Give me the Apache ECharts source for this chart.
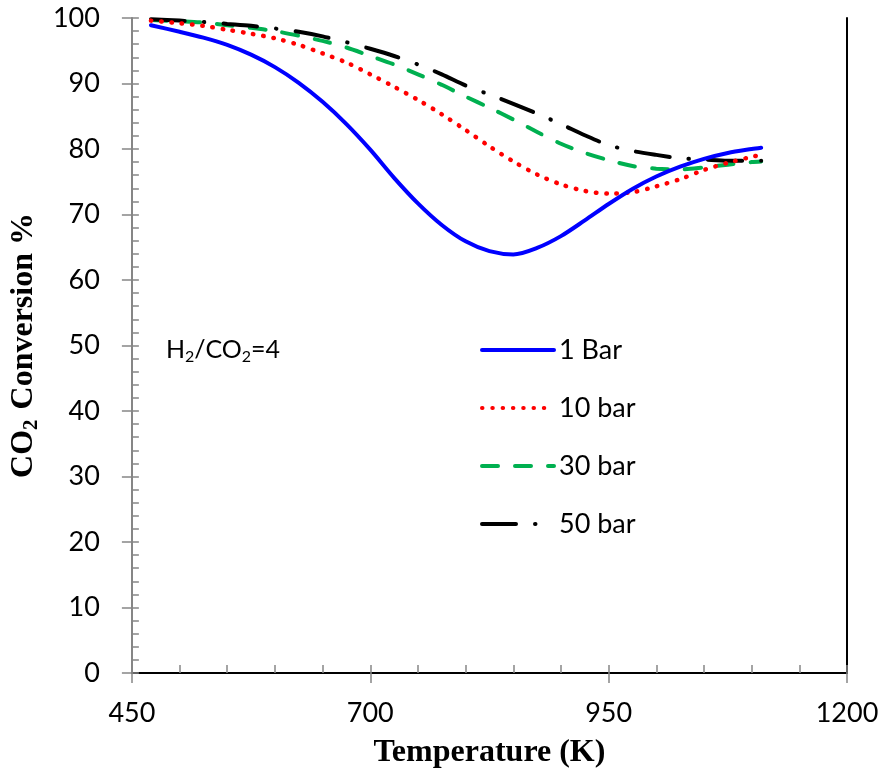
<!DOCTYPE html>
<html>
<head>
<meta charset="utf-8">
<script src="https://cdn.jsdelivr.net/npm/echarts@6/dist/echarts.min.js"></script>
<style>
html,body{margin:0;padding:0;background:#fff;}
#chart{width:885px;height:782px;}
</style>
</head>
<body>
<div id="chart"></div>
<script>
// Temperature (K)
const temps = [470, 500, 525, 550, 575, 600, 625, 650, 675, 700, 725, 750, 775, 800, 825, 850, 875, 900, 925, 950, 975, 1000, 1025, 1050, 1075, 1100, 1110];
// CO2 conversion (%)
const bar1  = [98.9, 97.9, 97.0, 95.9, 94.4, 92.5, 90.1, 87.2, 83.8, 79.9, 75.6, 71.7, 68.4, 65.9, 64.4, 63.9, 64.9, 66.7, 69.1, 71.6, 73.9, 75.8, 77.3, 78.5, 79.4, 80.0, 80.2];
const bar10 = [99.6, 99.2, 98.8, 98.2, 97.6, 96.9, 95.9, 94.6, 93.2, 91.4, 89.5, 87.5, 85.3, 82.9, 80.4, 78.1, 76.1, 74.6, 73.6, 73.2, 73.4, 74.3, 75.4, 76.8, 77.9, 78.8, 79.1];
const bar30 = [99.7, 99.5, 99.3, 98.9, 98.5, 98.0, 97.3, 96.5, 95.5, 94.2, 92.9, 91.4, 89.8, 88.0, 86.3, 84.5, 82.6, 80.8, 79.4, 78.3, 77.4, 77.0, 76.9, 77.2, 77.6, 78.0, 78.1];
const bar50 = [99.8, 99.6, 99.4, 99.1, 98.8, 98.4, 97.9, 97.2, 96.3, 95.3, 94.2, 92.9, 91.4, 89.7, 88.3, 86.9, 85.4, 83.8, 82.1, 80.6, 79.7, 79.1, 78.6, 78.4, 78.2, 78.2, 78.2];
const seriesNames = ['1 Bar', '10 bar', '30 bar', '50 bar'];
const xTicks = [450, 700, 950, 1200];
const yTicks = [0, 10, 20, 30, 40, 50, 60, 70, 80, 90, 100];

const pairs = v => temps.map((t, i) => [t, v[i]]);
const gray = '#868686';
const labelFont = 'Lato, "Noto Sans", sans-serif';
const serif = '"Liberation Serif", "Times New Roman", serif';

const chart = echarts.init(document.getElementById('chart'), null, {renderer: 'canvas'});
const option = {
  backgroundColor: '#fff',
  animation: false,
  grid: {left: 130, right: 38, top: 18, bottom: 109, containLabel: false},
  legend: {
    orient: 'vertical',
    left: 480, top: 336, padding: 0,
    itemWidth: 72, itemHeight: 28, itemGap: 30,
    data: seriesNames,
    itemStyle: {opacity: 0},
    lineStyle: {width: 4, cap: 'round'},
    textStyle: {fontFamily: labelFont, fontSize: 27, color: '#000', lineHeight: 28}
  },
  xAxis: [
    {
      type: 'value', min: xTicks[0], max: xTicks[xTicks.length-1], interval: 250, position: 'bottom',
      axisLine: {show: true, lineStyle: {color: gray, width: 2}},
      axisTick: {show: true, inside: false, length: 10, lineStyle: {color: gray, width: 1.5}},
      minorTick: {show: false},
      splitLine: {show: false},
      axisLabel: {fontFamily: labelFont, fontSize: 27, color: '#000', margin: 27, formatter: v => String(v)},
      name: 'Temperature (K)', nameLocation: 'middle', nameGap: 64,
      nameTextStyle: {fontFamily: serif, fontWeight: 'bold', fontSize: 32, color: '#000'}
    },
    {
      type: 'value', min: xTicks[0], max: xTicks[xTicks.length-1], interval: 250, position: 'bottom',
      axisLine: {show: false},
      axisTick: {show: true, inside: true, length: 8, lineStyle: {color: gray, width: 1.5}},
      minorTick: {show: true, splitNumber: 5, length: 8, lineStyle: {color: gray, width: 1.5}},
      splitLine: {show: false}, axisLabel: {show: false}
    },
    {
      type: 'value', min: xTicks[0], max: xTicks[xTicks.length-1], interval: 250, position: 'top',
      axisLine: {show: true, lineStyle: {color: '#000', width: 2}},
      axisTick: {show: false}, splitLine: {show: false}, axisLabel: {show: false}
    }
  ],
  yAxis: [
    {
      type: 'value', min: yTicks[0], max: yTicks[yTicks.length-1], interval: 10, position: 'left',
      axisLine: {show: true, lineStyle: {color: gray, width: 2}},
      axisTick: {show: true, inside: false, length: 10, lineStyle: {color: gray, width: 1.5}},
      splitLine: {show: false},
      axisLabel: {fontFamily: labelFont, fontSize: 27, color: '#000', margin: 32, formatter: v => String(v)},
      name: '{a|CO}{s|2}{a| Conversion %}', nameLocation: 'middle', nameGap: 82,
      nameTextStyle: {
        rich: {
          a: {fontFamily: serif, fontWeight: 'bold', fontSize: 32, color: '#000', lineHeight: 36},
          s: {fontFamily: serif, fontWeight: 'bold', fontSize: 21, color: '#000', lineHeight: 36, verticalAlign: 'bottom', padding: [0,2,0,0]}
        }
      }
    },
    {
      type: 'value', min: yTicks[0], max: yTicks[yTicks.length-1], interval: 10, position: 'left',
      axisLine: {show: false},
      axisTick: {show: true, inside: true, length: 7, lineStyle: {color: gray, width: 1.5}},
      minorTick: {show: true, splitNumber: 5, length: 7, lineStyle: {color: gray, width: 1.5}},
      splitLine: {show: false}, axisLabel: {show: false}
    },
    {
      type: 'value', min: yTicks[0], max: yTicks[yTicks.length-1], interval: 10, position: 'right',
      axisLine: {show: true, lineStyle: {color: '#000', width: 2}},
      axisTick: {show: false}, splitLine: {show: false}, axisLabel: {show: false}
    }
  ],
  graphic: [{
    type: 'text', left: 166, top: 337,
    style: {
      text: '{a|H}{s|2}{a|/CO}{s|2}{a|=4}',
      rich: {
        a: {fontFamily: labelFont, fontSize: 25, fill: '#000', lineHeight: 30},
        s: {fontFamily: labelFont, fontSize: 16, fill: '#000', lineHeight: 30, verticalAlign: 'bottom'}
      }
    }
  }],
  series: [
    {name: seriesNames[0], type: 'line', data: pairs(bar1), smooth: 0.3, symbol: 'none', showSymbol: false,
      lineStyle: {color: '#0000FF', width: 4, cap: 'round'}, itemStyle: {color: '#0000FF'}, z: 5},
    {name: seriesNames[1], type: 'line', data: pairs(bar10), smooth: 0.3, symbol: 'none', showSymbol: false,
      lineStyle: {color: '#FF0000', width: 4.5, type: [0.5, 9.8], cap: 'round'}, itemStyle: {color: '#FF0000'}, z: 4},
    {name: seriesNames[2], type: 'line', data: pairs(bar30), smooth: 0.3, symbol: 'none', showSymbol: false,
      lineStyle: {color: '#00B050', width: 4, type: [16, 17], cap: 'round'}, itemStyle: {color: '#00B050'}, z: 3},
    {name: seriesNames[3], type: 'line', data: pairs(bar50), smooth: 0.3, symbol: 'none', showSymbol: false,
      lineStyle: {color: '#000000', width: 4, type: [34, 19, 0.5, 19], cap: 'round'}, itemStyle: {color: '#000000'}, z: 3}
  ]
};
chart.setOption(option);
</script>
</body>
</html>
